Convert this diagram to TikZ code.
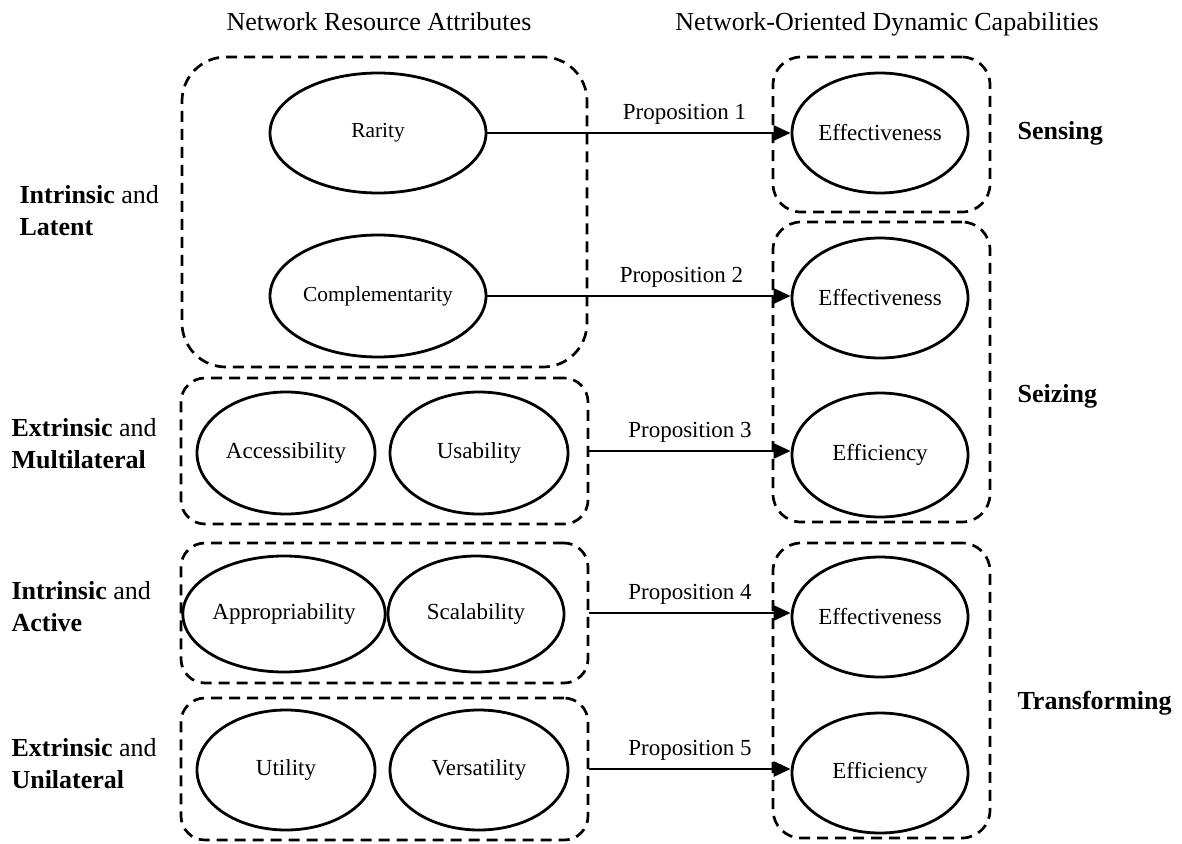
\documentclass[tikz,border=0pt]{standalone}
\usepackage{fontspec}
\setmainfont{Liberation Serif}
\usetikzlibrary{shapes.geometric,arrows.meta}

\begin{document}
\begin{tikzpicture}[x=1pt,y=-1pt,font=\fontsize{23}{32}\selectfont,
  attr/.style={draw,ellipse,line width=2.8pt,inner sep=0pt},
  grp/.style={draw,line width=2.7pt,dash pattern=on 11pt off 7pt,rounded corners=#1,inner sep=0pt},
  grp/.default=24pt,
  prop/.style={-{Triangle[length=17pt,width=15pt]},line width=2.8pt},
  side/.style={anchor=west,align=left,font=\fontsize{26}{32}\selectfont},
  capname/.style={anchor=west,font=\fontsize{26}{30}\selectfont\bfseries}]
\useasboundingbox (0,0) rectangle (1182,843);

\node[font=\fontsize{26}{30}\selectfont] (hl) at (379,22) {Network Resource Attributes};
\node[font=\fontsize{26}{30}\selectfont] (hr) at (887,24) {Network-Oriented Dynamic Capabilities};

\node[grp=44pt, minimum width=405pt, minimum height=310pt] (gA) at (384.5,212) {};
\node[grp, minimum width=407pt, minimum height=146pt] (gB) at (384.5,451) {};
\node[grp, minimum width=407pt, minimum height=140pt] (gC) at (384.5,613) {};
\node[grp, minimum width=407pt, minimum height=142pt] (gD) at (384.5,769) {};
\node[grp=28pt, minimum width=217pt, minimum height=155pt] (gR1) at (881.5,134.5) {};
\node[grp=28pt, minimum width=217pt, minimum height=300pt] (gR2) at (881.5,372) {};
\node[grp=28pt, minimum width=217pt, minimum height=295pt] (gR3) at (881.5,690.5) {};

\begin{scope}[font=\fontsize{21.4}{24}\selectfont]
\node[attr, minimum width=216pt, minimum height=120pt] (rar) at (378,133) {Rarity};
\node[attr, minimum width=216pt, minimum height=122pt] (com) at (378,296) {Complementarity};
\end{scope}

\foreach \n/\x/\y/\w/\h/\t in {acc/286/453/178/122/Accessibility, usa/479/453/178/122/Usability,
    app/284/614/194/116/Appropriability, sca/476/614/176/116/Scalability,
    uti/286/770/178/120/Utility, ver/479/770/178/120/Versatility,
    ef1/880/133/176/120/Effectiveness, ef2/880/298/176/120/Effectiveness,
    ei2/880/455/176/124/Efficiency, ef3/880/617/176/120/Effectiveness,
    ei3/880/773/176/120/Efficiency}{
  \node[attr, minimum width=\w pt, minimum height=\h pt] (\n) at (\x,\y) {\t};
}

\draw[prop] (rar.east) -- (ef1.west) node[pos=0.65, above=4pt] (p1) {Proposition 1};
\draw[prop] (com.east) -- (com.east -| ef2.west) node[pos=0.64, above=4pt] (p2) {Proposition 2};
\draw[prop] (gB.east) -- (gB.east -| ei2.west) node[midway, above=4pt] (p3) {Proposition 3};
\draw[prop] (gC.east) -- (gC.east -| ef3.west) node[midway, above=4pt] (p4) {Proposition 4};
\draw[prop] (gD.east) -- (gD.east -| ei3.west) node[midway, above=4pt] (p5) {Proposition 5};

\node[side] (lA) at (16,211) {\textbf{Intrinsic} and\\\textbf{Latent}};
\node[side] (lB) at (8,444) {\textbf{Extrinsic} and\\\textbf{Multilateral}};
\node[side] (lC) at (8,607) {\textbf{Intrinsic} and\\\textbf{Active}};
\node[side] (lD) at (8,764) {\textbf{Extrinsic} and\\\textbf{Unilateral}};

\node[capname] (sen) at (1014,133) {Sensing};
\node[capname] (sei) at (1014,396) {Seizing};
\node[capname] (tra) at (1014,703) {Transforming};
\end{tikzpicture}
\end{document}
